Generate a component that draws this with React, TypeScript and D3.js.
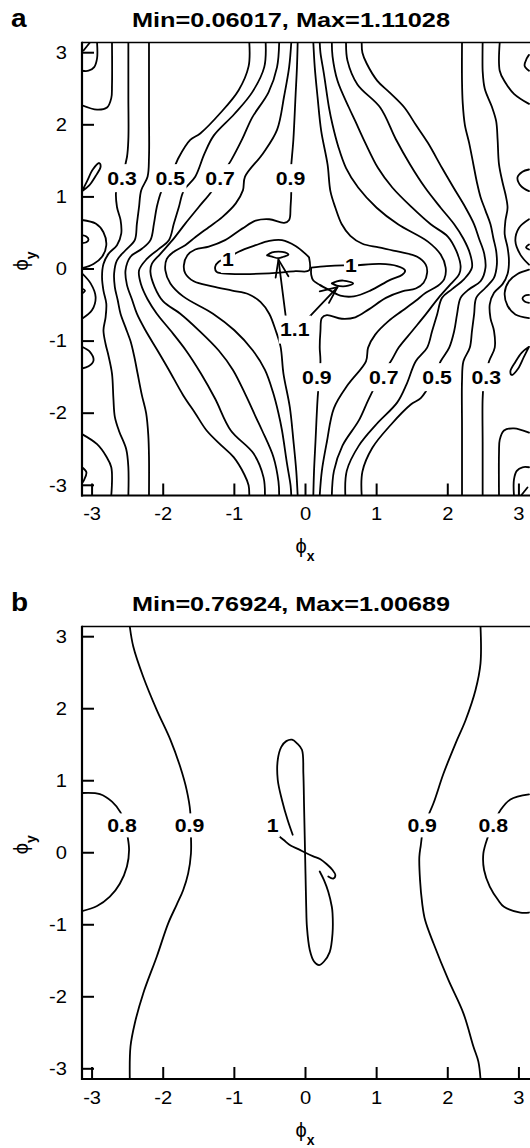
import React from "react";
import * as d3 from "d3";

type Pt = [number, number];

const FONT = "'Liberation Sans', Arial, Helvetica, sans-serif";
const TEXT_SX = 1.15;

const X_TICKS = [-3, -2, -1, 0, 1, 2, 3];
const Y_TICKS = [-3, -2, -1, 0, 1, 2, 3];
const DOMAIN: [number, number] = [-3.1416, 3.1416];

const TITLE_A = "Min=0.06017, Max=1.11028";
const TITLE_B = "Min=0.76924, Max=1.00689";

// ---------- panel a : contour lines (phi_x, phi_y) ----------
const a_c01_tl: Pt[] = [[-2.93, 3.1416], [-2.93, 2.92], [-2.97, 2.8], [-3.05, 2.75], [-3.1416, 2.75]];
const a_c01_tlCorner: Pt[] = [[-3.12, 3.03], [-3.03, 3.1416]];
const a_c02_tl: Pt[] = [[-2.72, 3.1416], [-2.72, 2.55], [-2.73, 2.37], [-2.79, 2.24], [-2.93, 2.21], [-3.1416, 2.27]];
const a_leaf_l: Pt[] = [[-3.1416, 1.08], [-3.07, 1.22], [-2.99, 1.38], [-2.9, 1.47], [-2.88, 1.42], [-2.95, 1.29], [-3.04, 1.16], [-3.1416, 1.08]];
const a_loopA_l: Pt[] = [[-3.1416, 0.68], [-2.95, 0.63], [-2.84, 0.51], [-2.8, 0.33], [-2.86, 0.17], [-2.98, 0.07], [-3.1416, 0.01]];
const a_smallA_l: Pt[] = [[-3.1416, 0.47], [-3.08, 0.45], [-3.05, 0.41], [-3.08, 0.37], [-3.1416, 0.36]];
const a_loopB_l: Pt[] = [[-3.1416, -0.06], [-3.02, -0.2], [-2.95, -0.39], [-3.0, -0.57], [-3.1416, -0.69]];
const a_smallB_l: Pt[] = [[-3.1416, -0.27], [-3.1, -0.3], [-3.1416, -0.34]];
const a_loopC_l: Pt[] = [[-3.1416, -1.08], [-3.03, -1.15], [-2.98, -1.27], [-3.05, -1.35], [-3.1416, -1.38]];
const a_c02_bl: Pt[] = [[-3.1416, -2.29], [-2.93, -2.43], [-2.8, -2.6], [-2.73, -2.75], [-2.73, -3.1416]];
const a_c01_bl: Pt[] = [[-3.1416, -2.75], [-3.08, -2.82], [-3.11, -2.92], [-3.1416, -2.97]];

const a_c03_l: Pt[] = [[-2.49, 3.1416], [-2.49, 2.4], [-2.49, 1.8], [-2.51, 1.55], [-2.58, 1.28], [-2.66, 1.09], [-2.65, 0.86], [-2.6, 0.68], [-2.59, 0.49], [-2.65, 0.33], [-2.77, 0.21], [-2.84, 0.07], [-2.86, -0.11], [-2.84, -0.3], [-2.8, -0.48], [-2.81, -0.67], [-2.84, -0.85], [-2.81, -1.04], [-2.77, -1.2], [-2.72, -1.45], [-2.7, -1.8], [-2.68, -2.05], [-2.62, -2.25], [-2.52, -2.5], [-2.49, -2.75], [-2.49, -3.1416]];
const a_c04_l: Pt[] = [[-2.2, 3.1416], [-2.2, 2.2], [-2.2, 1.55], [-2.22, 1.28], [-2.31, 1.09], [-2.34, 0.86], [-2.37, 0.63], [-2.4, 0.4], [-2.53, 0.26], [-2.65, 0.12], [-2.69, -0.06], [-2.68, -0.25], [-2.64, -0.43], [-2.6, -0.62], [-2.53, -0.81], [-2.46, -1.0], [-2.41, -1.2], [-2.36, -1.45], [-2.3, -1.75], [-2.24, -2.0], [-2.21, -2.3], [-2.2, -2.6], [-2.2, -3.1416]];
const a_c05_l: Pt[] = [[-0.79, 3.1416], [-0.8, 2.81], [-0.94, 2.48], [-1.2, 2.16], [-1.48, 1.88], [-1.62, 1.79], [-1.78, 1.55], [-1.9, 1.28], [-2.02, 1.09], [-2.09, 0.86], [-2.13, 0.63], [-2.18, 0.4], [-2.3, 0.28], [-2.46, 0.17], [-2.53, -0.02], [-2.51, -0.22], [-2.44, -0.42], [-2.37, -0.62], [-2.25, -0.85], [-2.08, -1.13], [-1.92, -1.4], [-1.72, -1.75], [-1.55, -2.0], [-1.39, -2.24], [-1.18, -2.45], [-1.01, -2.61], [-0.86, -2.85], [-0.8, -3.0], [-0.79, -3.1416]];
const a_c06_l: Pt[] = [[-0.56, 3.1416], [-0.58, 2.8], [-0.75, 2.45], [-1.0, 2.15], [-1.29, 1.85], [-1.42, 1.6], [-1.55, 1.28], [-1.71, 1.09], [-1.78, 0.86], [-1.85, 0.63], [-1.92, 0.4], [-2.06, 0.28], [-2.23, 0.14], [-2.34, -0.02], [-2.31, -0.22], [-2.22, -0.42], [-2.09, -0.62], [-1.9, -0.85], [-1.68, -1.13], [-1.47, -1.45], [-1.27, -1.8], [-1.05, -2.24], [-0.73, -2.56], [-0.59, -2.89], [-0.57, -3.1416]];
const a_c07_l: Pt[] = [[-0.37, 3.1416], [-0.4, 2.8], [-0.52, 2.45], [-0.75, 2.1], [-0.89, 1.8], [-1.05, 1.5], [-1.2, 1.28], [-1.31, 1.09], [-1.5, 0.86], [-1.69, 0.63], [-1.87, 0.4], [-2.04, 0.21], [-2.16, 0.07], [-2.18, -0.04], [-2.12, -0.25], [-2.0, -0.45], [-1.76, -0.62], [-1.5, -0.85], [-1.22, -1.13], [-1.02, -1.4], [-0.84, -1.75], [-0.7, -2.05], [-0.61, -2.24], [-0.45, -2.61], [-0.38, -2.95], [-0.37, -3.1416]];
const a_c08_l: Pt[] = [[-0.2, 3.1416], [-0.23, 2.8], [-0.3, 2.4], [-0.4, 1.93], [-0.6, 1.6], [-0.85, 1.28], [-0.88, 1.09], [-0.98, 0.91], [-1.17, 0.72], [-1.36, 0.58], [-1.55, 0.44], [-1.69, 0.33], [-1.85, 0.24], [-1.95, 0.14], [-1.97, -0.02], [-1.9, -0.2], [-1.72, -0.38], [-1.3, -0.62], [-1.0, -0.85], [-0.74, -1.13], [-0.57, -1.4], [-0.46, -1.7], [-0.38, -2.0], [-0.33, -2.24], [-0.26, -2.7], [-0.21, -3.0], [-0.2, -3.1416]];
const a_c09_l: Pt[] = [[-0.11, 3.1416], [-0.12, 2.8], [-0.14, 2.4], [-0.17, 1.8], [-0.21, 1.28], [-0.2, 1.09], [-0.21, 0.86], [-0.23, 0.68], [-0.3, 0.64], [-0.51, 0.69], [-0.7, 0.67], [-0.89, 0.56], [-1.13, 0.4], [-1.36, 0.31], [-1.55, 0.27], [-1.66, 0.19], [-1.71, 0.05], [-1.69, -0.06], [-1.57, -0.17], [-1.31, -0.24], [-1.03, -0.3], [-0.8, -0.35], [-0.63, -0.46], [-0.51, -0.62], [-0.42, -0.85], [-0.35, -1.08], [-0.31, -1.45], [-0.22, -1.92], [-0.17, -2.38], [-0.13, -2.8], [-0.11, -3.1416]];

const a_c09_r: Pt[] = [[0.11, -3.1416], [0.12, -2.8], [0.14, -2.4], [0.17, -1.8], [0.21, -1.28], [0.2, -1.09], [0.21, -0.86], [0.23, -0.68], [0.3, -0.64], [0.51, -0.69], [0.7, -0.67], [0.89, -0.56], [1.13, -0.4], [1.36, -0.31], [1.55, -0.27], [1.66, -0.19], [1.71, -0.05], [1.69, 0.06], [1.57, 0.17], [1.31, 0.24], [1.03, 0.3], [0.8, 0.35], [0.63, 0.46], [0.51, 0.62], [0.42, 0.85], [0.35, 1.08], [0.31, 1.45], [0.22, 1.92], [0.17, 2.38], [0.13, 2.8], [0.11, 3.1416]];
const a_c08_r: Pt[] = [[0.2, -3.1416], [0.23, -2.8], [0.3, -2.4], [0.4, -1.93], [0.6, -1.6], [0.85, -1.28], [0.88, -1.09], [0.98, -0.91], [1.17, -0.72], [1.36, -0.58], [1.55, -0.44], [1.69, -0.33], [1.85, -0.24], [1.95, -0.14], [1.97, 0.02], [1.9, 0.2], [1.72, 0.38], [1.3, 0.62], [1.0, 0.85], [0.74, 1.13], [0.57, 1.4], [0.46, 1.7], [0.38, 2.0], [0.33, 2.24], [0.26, 2.7], [0.21, 3.0], [0.2, 3.1416]];
const a_c07_r: Pt[] = [[0.37, -3.1416], [0.4, -2.8], [0.52, -2.45], [0.75, -2.1], [0.89, -1.8], [1.05, -1.5], [1.2, -1.28], [1.31, -1.09], [1.5, -0.86], [1.69, -0.63], [1.87, -0.4], [2.04, -0.21], [2.16, -0.07], [2.18, 0.04], [2.12, 0.25], [2.0, 0.45], [1.76, 0.62], [1.5, 0.85], [1.22, 1.13], [1.02, 1.4], [0.84, 1.75], [0.7, 2.05], [0.61, 2.24], [0.45, 2.61], [0.38, 2.95], [0.37, 3.1416]];
const a_c06_r: Pt[] = [[0.56, -3.1416], [0.58, -2.8], [0.75, -2.45], [1.0, -2.15], [1.29, -1.85], [1.42, -1.6], [1.55, -1.28], [1.71, -1.09], [1.78, -0.86], [1.85, -0.63], [1.92, -0.4], [2.06, -0.28], [2.23, -0.14], [2.34, 0.02], [2.31, 0.22], [2.22, 0.42], [2.09, 0.62], [1.9, 0.85], [1.68, 1.13], [1.47, 1.45], [1.27, 1.8], [1.05, 2.24], [0.73, 2.56], [0.59, 2.89], [0.57, 3.1416]];
const a_c05_r: Pt[] = [[0.79, -3.1416], [0.8, -2.81], [0.94, -2.48], [1.2, -2.16], [1.48, -1.88], [1.62, -1.79], [1.78, -1.55], [1.9, -1.28], [2.02, -1.09], [2.09, -0.86], [2.13, -0.63], [2.18, -0.4], [2.3, -0.28], [2.46, -0.17], [2.53, 0.02], [2.51, 0.22], [2.44, 0.42], [2.37, 0.62], [2.25, 0.85], [2.08, 1.13], [1.92, 1.4], [1.72, 1.75], [1.55, 2.0], [1.39, 2.24], [1.18, 2.45], [1.01, 2.61], [0.86, 2.85], [0.8, 3.0], [0.79, 3.1416]];
const a_c04_r: Pt[] = [[2.2, -3.1416], [2.2, -2.2], [2.2, -1.55], [2.22, -1.28], [2.31, -1.09], [2.34, -0.86], [2.37, -0.63], [2.4, -0.4], [2.53, -0.26], [2.65, -0.12], [2.69, 0.06], [2.68, 0.25], [2.64, 0.43], [2.6, 0.62], [2.53, 0.81], [2.46, 1.0], [2.41, 1.2], [2.36, 1.45], [2.3, 1.75], [2.24, 2.0], [2.21, 2.3], [2.2, 2.6], [2.2, 3.1416]];
const a_c03_r: Pt[] = [[2.49, -3.1416], [2.49, -2.4], [2.49, -1.8], [2.51, -1.55], [2.58, -1.28], [2.66, -1.09], [2.65, -0.86], [2.6, -0.68], [2.59, -0.49], [2.65, -0.33], [2.77, -0.21], [2.84, -0.07], [2.86, 0.11], [2.84, 0.3], [2.8, 0.48], [2.81, 0.67], [2.84, 0.85], [2.81, 1.04], [2.77, 1.2], [2.72, 1.45], [2.7, 1.8], [2.68, 2.05], [2.62, 2.25], [2.52, 2.5], [2.49, 2.75], [2.49, 3.1416]];

const a_c01_br: Pt[] = [[2.93, -3.1416], [2.93, -2.92], [2.97, -2.8], [3.05, -2.75], [3.1416, -2.75]];
const a_c01_brCorner: Pt[] = [[3.12, -3.03], [3.03, -3.1416]];
const a_c02_br: Pt[] = [[2.72, -3.1416], [2.72, -2.55], [2.73, -2.37], [2.79, -2.24], [2.93, -2.21], [3.1416, -2.27]];
const a_leaf_r: Pt[] = [[3.1416, -1.08], [3.07, -1.22], [2.99, -1.38], [2.9, -1.47], [2.88, -1.42], [2.95, -1.29], [3.04, -1.16], [3.1416, -1.08]];
const a_loopA_r: Pt[] = [[3.1416, -0.68], [2.95, -0.63], [2.84, -0.51], [2.8, -0.33], [2.86, -0.17], [2.98, -0.07], [3.1416, -0.01]];
const a_smallA_r: Pt[] = [[3.1416, -0.47], [3.08, -0.45], [3.05, -0.41], [3.08, -0.37], [3.1416, -0.36]];
const a_loopB_r: Pt[] = [[3.1416, 0.06], [3.02, 0.2], [2.95, 0.39], [3.0, 0.57], [3.1416, 0.69]];
const a_smallB_r: Pt[] = [[3.1416, 0.27], [3.1, 0.3], [3.1416, 0.34]];
const a_loopC_r: Pt[] = [[3.1416, 1.08], [3.03, 1.15], [2.98, 1.27], [3.05, 1.35], [3.1416, 1.38]];
const a_c02_tr: Pt[] = [[3.1416, 2.29], [2.93, 2.43], [2.8, 2.6], [2.73, 2.75], [2.73, 3.1416]];
const a_c01_tr: Pt[] = [[3.1416, 2.75], [3.08, 2.82], [3.11, 2.92], [3.1416, 2.97]];

// level 1.0 lobes and 1.1 maxima
const a_c10_left: Pt[] = [[0.05, 0.16], [0.0, 0.21], [-0.14, 0.32], [-0.33, 0.4], [-0.51, 0.39], [-0.7, 0.33], [-0.94, 0.24], [-1.08, 0.16], [-1.22, 0.1], [-1.27, 0.03], [-1.25, -0.04], [-1.17, -0.06], [-0.89, -0.07], [-0.51, -0.06], [-0.14, -0.03], [0.05, -0.02], [0.05, 0.16]];
const a_c10_right: Pt[] = [[0.08, 0.02], [0.3, 0.04], [0.53, 0.05], [0.68, 0.05], [1.05, 0.07], [1.29, 0.04], [1.4, -0.02], [1.36, -0.08], [1.19, -0.15], [0.91, -0.3], [0.68, -0.38], [0.49, -0.37], [0.35, -0.3], [0.2, -0.22], [0.11, -0.16], [0.08, -0.08], [0.08, 0.02]];
const a_c11_left: Pt[] = [[-0.54, 0.19], [-0.47, 0.23], [-0.38, 0.24], [-0.29, 0.23], [-0.24, 0.2], [-0.31, 0.17], [-0.38, 0.15], [-0.47, 0.17], [-0.54, 0.19]];
const a_c11_right: Pt[] = [[0.37, -0.2], [0.44, -0.17], [0.53, -0.16], [0.63, -0.18], [0.67, -0.2], [0.6, -0.23], [0.53, -0.24], [0.44, -0.23], [0.37, -0.2]];

const CONTOURS_A: Pt[][] = [
  a_c01_tl, a_c01_tlCorner, a_c02_tl, a_leaf_l, a_loopA_l, a_smallA_l, a_loopB_l, a_smallB_l, a_loopC_l, a_c02_bl, a_c01_bl,
  a_c03_l, a_c04_l, a_c05_l, a_c06_l, a_c07_l, a_c08_l, a_c09_l,
  a_c09_r, a_c08_r, a_c07_r, a_c06_r, a_c05_r, a_c04_r, a_c03_r,
  a_c01_br, a_c01_brCorner, a_c02_br, a_leaf_r, a_loopA_r, a_smallA_r, a_loopB_r, a_smallB_r, a_loopC_r, a_c02_tr, a_c01_tr,
  a_c10_left, a_c10_right, a_c11_left, a_c11_right,
];

type Label = { t: string; x: number; y: number };
type Arrow = { from: Pt; to: Pt; barbs: [Pt, Pt] };

const LABELS_A: Label[] = [
  { t: "0.3", x: -2.58, y: 1.26 },
  { t: "0.5", x: -1.9, y: 1.26 },
  { t: "0.7", x: -1.2, y: 1.26 },
  { t: "0.9", x: -0.21, y: 1.26 },
  { t: "1", x: -1.09, y: 0.14 },
  { t: "1", x: 0.64, y: 0.05 },
  { t: "1.1", x: -0.15, y: -0.84 },
  { t: "0.9", x: 0.16, y: -1.5 },
  { t: "0.7", x: 1.1, y: -1.5 },
  { t: "0.5", x: 1.85, y: -1.5 },
  { t: "0.3", x: 2.54, y: -1.5 },
];

const ARROWS_A: Arrow[] = [
  { from: [-0.27, -0.72], to: [-0.38, 0.13], barbs: [[-0.42, -0.12], [-0.24, -0.1]] },
  { from: [0.0, -0.72], to: [0.45, -0.25], barbs: [[0.2, -0.31], [0.33, -0.47]] },
];

// ---------- panel b ----------
const b_c08_l: Pt[] = [[-3.1416, 0.83], [-2.89, 0.815], [-2.72, 0.71], [-2.6, 0.56], [-2.54, 0.4], [-2.5, 0.22], [-2.48, 0.04], [-2.51, -0.19], [-2.61, -0.43], [-2.75, -0.61], [-2.93, -0.74], [-3.1416, -0.81]];
const b_c08_r: Pt[] = [[3.1416, 0.81], [2.88, 0.74], [2.74, 0.59], [2.64, 0.4], [2.56, 0.21], [2.5, -0.01], [2.51, -0.24], [2.59, -0.47], [2.71, -0.66], [2.79, -0.75], [3.02, -0.83], [3.1416, -0.83]];
const b_c09_l: Pt[] = [[-2.47, 3.1416], [-2.42, 2.86], [-2.28, 2.44], [-2.09, 1.98], [-1.9, 1.57], [-1.76, 1.19], [-1.67, 0.87], [-1.62, 0.57], [-1.62, 0.38], [-1.61, 0.22], [-1.61, -0.01], [-1.65, -0.29], [-1.72, -0.52], [-1.81, -0.72], [-1.93, -0.98], [-2.09, -1.44], [-2.28, -1.95], [-2.4, -2.37], [-2.46, -2.69], [-2.47, -3.1416]];
const b_c09_r: Pt[] = [[2.46, 3.1416], [2.46, 2.63], [2.39, 2.26], [2.25, 1.84], [2.11, 1.52], [1.94, 1.1], [1.8, 0.69], [1.66, 0.35], [1.62, 0.1], [1.6, -0.06], [1.61, -0.38], [1.64, -0.7], [1.68, -0.93], [1.8, -1.26], [2.01, -1.77], [2.22, -2.23], [2.36, -2.69], [2.43, -2.9], [2.46, -3.1416]];
const b_c10_lobes: Pt[] = [[-0.18, 0.25], [-0.25, 0.45], [-0.33, 0.73], [-0.39, 1.01], [-0.39, 1.29], [-0.34, 1.47], [-0.27, 1.55], [-0.19, 1.57], [-0.12, 1.52], [-0.05, 1.43], [-0.03, 1.1], [-0.02, 0.64], [-0.01, 0.18], [0.0, -0.29], [0.01, -0.75], [0.02, -1.03], [0.06, -1.35], [0.12, -1.51], [0.19, -1.56], [0.26, -1.51], [0.34, -1.38], [0.38, -1.12], [0.38, -0.84], [0.37, -0.75], [0.32, -0.54], [0.26, -0.38], [0.2, -0.26]];
const b_c10_diag: Pt[] = [[-0.4, 0.25], [-0.31, 0.18], [-0.21, 0.1], [-0.1, 0.05], [0.0, 0.0], [0.11, -0.05], [0.21, -0.09], [0.3, -0.16], [0.38, -0.24], [0.42, -0.31], [0.39, -0.36], [0.32, -0.33]];

const CONTOURS_B: Pt[][] = [b_c08_l, b_c08_r, b_c09_l, b_c09_r, b_c10_lobes, b_c10_diag];

const LABELS_B: Label[] = [
  { t: "0.8", x: -2.58, y: 0.38 },
  { t: "0.9", x: -1.63, y: 0.38 },
  { t: "1", x: -0.46, y: 0.38 },
  { t: "0.9", x: 1.64, y: 0.38 },
  { t: "0.8", x: 2.64, y: 0.38 },
];
const ARROWS_B: Arrow[] = [];

const CHAR_W: Record<string, number> = { ".": 0.278 };
function textWidth(s: string, size: number) {
  let w = 0;
  for (const c of s) w += CHAR_W[c] ?? 0.556;
  return w * size * TEXT_SX;
}

function SText(props: any) {
  const { x, y, sx = TEXT_SX, anchor = "start", size, bold, children, ...rest } = props;
  return (
    <text
      transform={`translate(${x},${y}) scale(${sx},1)`}
      textAnchor={anchor}
      fontSize={size}
      fontWeight={bold ? "bold" : "normal"}
      fontFamily={FONT}
      fill="#000"
      {...rest}
    >
      {children}
    </text>
  );
}

const LEFT = 82;
const RIGHT = 529;

function Panel(props: {
  top: number; bottom: number; letter: string; title: string;
  contours: Pt[][]; labels: Label[]; arrows: Arrow[]; clipId: string; gapH: number;
}) {
  const { top, bottom, letter, title, contours, labels, arrows, clipId, gapH } = props;
  const x = d3.scaleLinear().domain(DOMAIN).range([LEFT, RIGHT]);
  const y = d3.scaleLinear().domain(DOMAIN).range([bottom, top]);
  const smooth = d3.line<Pt>().x((d) => x(d[0])).y((d) => y(d[1])).curve(d3.curveCatmullRom.alpha(0.5));
  const straight = d3.line<Pt>().x((d) => x(d[0])).y((d) => y(d[1]));
  const labelSize = 19;
  const tickSize = 17.5;
  const midY = (top + bottom) / 2;
  return (
    <g>
      <defs>
        <clipPath id={clipId}>
          <rect x={LEFT} y={top} width={RIGHT - LEFT + 2} height={bottom - top} />
        </clipPath>
      </defs>
      <g clipPath={`url(#${clipId})`} fill="none" stroke="#000" strokeWidth={1.8} strokeLinejoin="round" strokeLinecap="round">
        {contours.map((c, i) => (
          <path key={i} d={smooth(c) || ""} />
        ))}
        {arrows.map((a, i) => (
          <g key={i}>
            <path d={straight([a.from, a.to]) || ""} />
            <path d={straight([a.barbs[0], a.to, a.barbs[1]]) || ""} />
          </g>
        ))}
      </g>
      {labels.map((l, i) => {
        const w = textWidth(l.t, labelSize);
        return (
          <g key={i}>
            <rect x={x(l.x) - w / 2 - 1} y={y(l.y) - gapH / 2} width={w + 2} height={gapH} fill="#fff" />
            <SText x={x(l.x)} y={y(l.y) + labelSize * 0.36} anchor="middle" size={labelSize} bold sx={1.12}>
              {l.t}
            </SText>
          </g>
        );
      })}
      {/* frame */}
      <line x1={LEFT} x2={RIGHT + 2} y1={top} y2={top} stroke="#000" strokeWidth={1.6} />
      <line x1={LEFT} x2={LEFT} y1={top - 0.8} y2={bottom + 1} stroke="#000" strokeWidth={2.2} />
      <line x1={LEFT - 1} x2={RIGHT + 2} y1={bottom} y2={bottom} stroke="#000" strokeWidth={2.2} />
      {X_TICKS.map((t) => (
        <g key={"xt" + t}>
          <line x1={x(t)} x2={x(t)} y1={bottom} y2={bottom - 12} stroke="#000" strokeWidth={2} />
          <SText x={x(t)} y={bottom + 24.5} anchor="middle" size={tickSize}>
            {String(t)}
          </SText>
        </g>
      ))}
      {Y_TICKS.map((t) => (
        <g key={"yt" + t}>
          <line x1={LEFT} x2={LEFT + 12} y1={y(t)} y2={y(t)} stroke="#000" strokeWidth={2} />
          <SText x={67} y={y(t) + tickSize * 0.36} anchor="end" size={tickSize}>
            {String(t)}
          </SText>
        </g>
      ))}
      {/* titles */}
      <SText x={11} y={top - 15.5} size={25} bold sx={1.12}>
        {letter}
      </SText>
      <text
        x={291}
        y={top - 15.5}
        textAnchor="middle"
        fontSize={21}
        fontWeight="bold"
        fontFamily={FONT}
        textLength={318}
        lengthAdjust="spacingAndGlyphs"
      >
        {title}
      </text>
      {/* axis labels */}
      <text x={305} y={bottom + 57.5} textAnchor="middle" fontSize={20} fontFamily={FONT}>
        ϕ
        <tspan dy={8} fontSize={14} fontWeight="bold">
          x
        </tspan>
      </text>
      <g transform={`translate(28,${midY - 8}) rotate(-90)`}>
        <text x={0} y={0} textAnchor="middle" fontSize={20} fontFamily={FONT}>
          ϕ
          <tspan dy={8} fontSize={14} fontWeight="bold">
            y
          </tspan>
        </text>
      </g>
    </g>
  );
}

export default function App() {
  return (
    <svg width={530} height={1148} style={{ position: "absolute", left: 0, top: 0, display: "block" }}>
      <rect x={0} y={0} width={530} height={1148} fill="#fff" />
      <Panel top={42.5} bottom={495.5} letter="a" title={TITLE_A} contours={CONTOURS_A} labels={LABELS_A} arrows={ARROWS_A} clipId="clipA" gapH={28} />
      <Panel top={626.5} bottom={1079} letter="b" title={TITLE_B} contours={CONTOURS_B} labels={LABELS_B} arrows={ARROWS_B} clipId="clipB" gapH={24} />
    </svg>
  );
}
